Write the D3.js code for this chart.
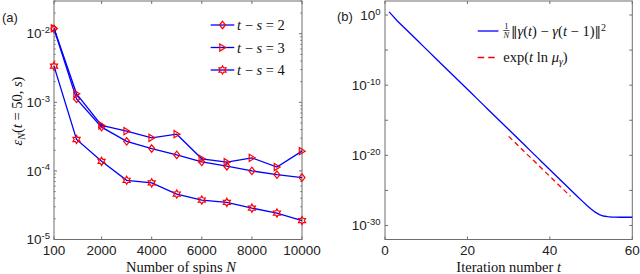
<!DOCTYPE html>
<html>
<head>
<meta charset="utf-8">
<script src="https://cdn.jsdelivr.net/npm/d3@7"></script>
<style>
  body { margin: 0; background: #fff; }
  svg { display: block; }
</style>
</head>
<body>
<div id="chart"></div>
<script>
// ---- panel (a): error vs number of spins
const spins = [100, 1000, 2000, 3000, 4000, 5000, 6000, 7000, 8000, 9000, 10000];
const errTS2 = [1.18e-2, 1.12e-3, 4.35e-4, 2.7e-4, 2.12e-4, 1.71e-4, 1.35e-4, 1.17e-4, 1.0e-4, 8.8e-5, 8.0e-5];
const errTS3 = [1.2e-2, 1.33e-3, 4.6e-4, 3.8e-4, 3.04e-4, 3.43e-4, 1.5e-4, 1.34e-4, 1.55e-4, 1.14e-4, 1.94e-4];
const errTS4 = [3.37e-3, 2.87e-4, 1.38e-4, 7.3e-5, 6.7e-5, 4.6e-5, 3.76e-5, 3.47e-5, 2.87e-5, 2.43e-5, 1.89e-5];
const seriesGaps = [2, 3, 4];
const xTicksA = [100, 2000, 4000, 6000, 8000, 10000];
const yTicksA = [1e-5, 1e-4, 1e-3, 1e-2];

// ---- panel (b): convergence vs iteration (log10 of the values)
const iters = d3.range(1, 61);
const diffExp = [0.45, -0.2, -0.85, -1.42, -1.99, -2.57, -3.14, -3.71, -4.29, -4.86,
  -5.43, -6.01, -6.58, -7.15, -7.73, -8.30, -8.87, -9.44, -10.02, -10.59,
  -11.16, -11.74, -12.31, -12.88, -13.46, -14.03, -14.60, -15.18, -15.75, -16.32,
  -16.89, -17.47, -18.04, -18.61, -19.19, -19.76, -20.33, -20.91, -21.48, -22.05,
  -22.63, -23.20, -23.77, -24.34, -24.92, -25.49, -26.06, -26.6, -27.15, -27.65,
  -28.1, -28.45, -28.65, -28.75, -28.8, -28.82, -28.83, -28.83, -28.83, -28.83];
const fitIters = [30, 45];
const fitExp = [-17.3, -25.85];
const xTicksB = [0, 20, 40, 60];
const yTicksBExp = [-30, -20, -10, 0];
const yMinorBExp = [-25, -15, -5];

const W = 640, H = 274;
const axisColor = '#6e6e6e';
const serif = '"Liberation Serif", "DejaVu Serif", serif';
const sans = '"Liberation Sans", Arial, sans-serif';

const svg = d3.select('#chart').append('svg')
  .attr('width', W).attr('height', H)
  .style('font-family', sans);

// ---------- helpers
function powLabel(sel, base, exp, anchorX) {
  const t = sel.append('text')
    .attr('x', anchorX).attr('y', 0)
    .attr('text-anchor', 'end')
    .attr('fill', '#222')
    .style('font-size', '13.5px');
  t.append('tspan').attr('dy', '0.35em').text(base);
  t.append('tspan').attr('dy', '-0.55em').style('font-size', '9.5px').text(exp);
}

function frame(g, x, y) {
  const [x0, x1] = x.range();
  const [y0, y1] = y.range();
  g.append('rect')
    .attr('x', x0).attr('y', y1)
    .attr('width', x1 - x0).attr('height', y0 - y1)
    .attr('fill', 'none').attr('stroke', axisColor).attr('stroke-width', 1);
}

function ticks(g, x, y, xVals, yVals, len) {
  const [x0, x1] = x.range();
  const [y0, y1] = y.range();
  xVals.forEach(v => {
    g.append('line').attr('x1', x(v)).attr('x2', x(v)).attr('y1', y0).attr('y2', y0 - len)
      .attr('stroke', axisColor);
    g.append('line').attr('x1', x(v)).attr('x2', x(v)).attr('y1', y1).attr('y2', y1 + len)
      .attr('stroke', axisColor);
  });
  yVals.forEach(v => {
    g.append('line').attr('x1', x0).attr('x2', x0 + len).attr('y1', y(v)).attr('y2', y(v))
      .attr('stroke', axisColor);
    g.append('line').attr('x1', x1).attr('x2', x1 - len).attr('y1', y(v)).attr('y2', y(v))
      .attr('stroke', axisColor);
  });
}

function markerPath(shape, cx, cy) {
  let pts;
  if (shape === 'diamond') pts = [[0, -3.7], [3, 0], [0, 3.7], [-3, 0]];
  else if (shape === 'tri') pts = [[-2.7, -3.6], [3.2, 0], [-2.7, 3.6]];
  else pts = d3.range(12).map(k => {
    const a = -Math.PI / 2 + k * Math.PI / 6, r = k % 2 ? 2.35 : 4.1;
    return [r * Math.cos(a), r * Math.sin(a)];
  });
  return 'M' + pts.map(p => (cx + p[0]) + ',' + (cy + p[1])).join('L') + 'Z';
}

// ================= panel (a)
const xA = d3.scaleLinear().domain([100, 10000]).range([54, 302]);
const yA = d3.scaleLog().domain([1e-5, 3e-2]).range([239.5, 1]);
const gA = svg.append('g');

const minorA = [];
[1e-5, 1e-4, 1e-3, 1e-2].forEach(dec => {
  for (let m = 2; m <= 9; m++) if (m * dec <= 3e-2) minorA.push(m * dec);
});
ticks(gA, xA, yA, xTicksA, [], 3);
ticks(gA, xA, yA, [], yTicksA, 3);
ticks(gA, xA, yA, [], minorA, 1.6);
frame(gA, xA, yA);

xTicksA.forEach(v => {
  gA.append('text').attr('x', xA(v)).attr('y', 255)
    .attr('text-anchor', 'middle').attr('fill', '#222')
    .style('font-size', '13.5px').text(v);
});
yTicksA.forEach(v => {
  const g = gA.append('g').attr('transform', `translate(0,${yA(v)})`);
  powLabel(g, '10', String(Math.round(Math.log10(v))), 50);
});

const series = [
  { vals: errTS2, shape: 'diamond' },
  { vals: errTS3, shape: 'tri' },
  { vals: errTS4, shape: 'hex' }
];
const lineA = d3.line().x((d, i) => xA(spins[i])).y(d => yA(d));
series.forEach(s => {
  gA.append('path').datum(s.vals).attr('d', lineA)
    .attr('fill', 'none').attr('stroke', '#0000ff').attr('stroke-width', 1.3);
  gA.selectAll(null).data(s.vals).join('path')
    .attr('d', (d, i) => markerPath(s.shape, xA(spins[i]), yA(d)))
    .attr('fill', 'none').attr('stroke', '#ff0000').attr('stroke-width', 1.2);
});

// legend (a)
seriesGaps.forEach((gap, i) => {
  const ly = 25 + i * 22.5;
  gA.append('line').attr('x1', 210.7).attr('x2', 234.3).attr('y1', ly).attr('y2', ly)
    .attr('stroke', '#0000ff').attr('stroke-width', 1.3);
  gA.append('path').attr('d', markerPath(series[i].shape, 222.5, ly))
    .attr('fill', 'none').attr('stroke', '#ff0000').attr('stroke-width', 1.2);
  const t = gA.append('text').attr('x', 237).attr('y', ly + 5)
    .style('font-family', serif).style('font-size', '14.5px').attr('fill', '#111');
  t.append('tspan').style('font-style', 'italic').text('t');
  t.append('tspan').text(' − ');
  t.append('tspan').style('font-style', 'italic').text('s');
  t.append('tspan').text(' = ' + gap);
});

// axis labels (a)
const xlabA = gA.append('text').attr('x', 181).attr('y', 271.5)
  .attr('text-anchor', 'middle').style('font-family', serif).style('font-size', '14.5px').attr('fill', '#111');
xlabA.append('tspan').text('Number of spins ');
xlabA.append('tspan').style('font-style', 'italic').text('N');

const ylabA = gA.append('text').attr('transform', 'translate(22,111) rotate(-90)')
  .attr('text-anchor', 'middle').style('font-family', serif).style('font-size', '14.5px').attr('fill', '#111');
ylabA.append('tspan').style('font-style', 'italic').text('ε');
ylabA.append('tspan').style('font-style', 'italic').style('font-size', '10px').attr('dy', 3).text('N');
ylabA.append('tspan').attr('dy', -3).text('(');
ylabA.append('tspan').style('font-style', 'italic').text('t');
ylabA.append('tspan').text(' = 50, ');
ylabA.append('tspan').style('font-style', 'italic').text('s');
ylabA.append('tspan').text(')');

gA.append('text').attr('x', 2).attr('y', 22).style('font-size', '13px').attr('fill', '#222').text('(a)');

// ================= panel (b)
const xB = d3.scaleLinear().domain([0, 60]).range([385, 632.3]);
const yB = d3.scaleLog().domain([1e-32, 1e2]).range([239.5, 1]);
const gB = svg.append('g');

ticks(gB, xB, yB, xTicksB, yTicksBExp.concat(yMinorBExp).map(e => Math.pow(10, e)), 3);
frame(gB, xB, yB);

xTicksB.forEach(v => {
  gB.append('text').attr('x', xB(v)).attr('y', 255)
    .attr('text-anchor', 'middle').attr('fill', '#222')
    .style('font-size', '13.5px').text(v);
});
yTicksBExp.forEach(e => {
  const g = gB.append('g').attr('transform', `translate(0,${yB(Math.pow(10, e))})`);
  powLabel(g, '10', String(e), 380.5);
});

const lineB = d3.line().x((d, i) => xB(iters[i])).y(d => yB(Math.pow(10, d)));
gB.append('path').datum(diffExp).attr('d', lineB)
  .attr('fill', 'none').attr('stroke', '#0000ff').attr('stroke-width', 1.3);

const fitLine = d3.line().x((d, i) => xB(fitIters[i])).y(d => yB(Math.pow(10, d)));
gB.append('path').datum(fitExp).attr('d', fitLine)
  .attr('fill', 'none').attr('stroke', '#ff0000').attr('stroke-width', 1.3)
  .attr('stroke-dasharray', '5,3.5');

// legend (b)
gB.append('line').attr('x1', 477.7).attr('x2', 498.5).attr('y1', 31).attr('y2', 31)
  .attr('stroke', '#0000ff').attr('stroke-width', 1.3);
gB.append('line').attr('x1', 477.7).attr('x2', 498.5).attr('y1', 57.5).attr('y2', 57.5)
  .attr('stroke', '#ff0000').attr('stroke-width', 1.3).attr('stroke-dasharray', '6.5,4');

// 1/N fraction
gB.append('text').attr('x', 506.3).attr('y', 28.5).attr('text-anchor', 'middle')
  .style('font-family', serif).style('font-size', '8.5px').attr('fill', '#111').text('1');
gB.append('line').attr('x1', 503.3).attr('x2', 509.5).attr('y1', 30.5).attr('y2', 30.5)
  .attr('stroke', '#111').attr('stroke-width', 0.7);
gB.append('text').attr('x', 506.3).attr('y', 37.5).attr('text-anchor', 'middle')
  .style('font-family', serif).style('font-size', '8.5px').style('font-style', 'italic').attr('fill', '#111').text('N');

const normFont = '"DejaVu Serif", serif';
const lb1 = gB.append('text').attr('x', 511).attr('y', 36)
  .style('font-family', serif).style('font-size', '14.5px').attr('fill', '#111');
lb1.append('tspan').style('font-family', normFont).style('font-size', '13px').text('‖');
lb1.append('tspan').style('font-style', 'italic').text('γ');
lb1.append('tspan').text('(');
lb1.append('tspan').style('font-style', 'italic').text('t');
lb1.append('tspan').text(') − ');
lb1.append('tspan').style('font-style', 'italic').text('γ');
lb1.append('tspan').text('(');
lb1.append('tspan').style('font-style', 'italic').text('t');
lb1.append('tspan').text(' − 1)');
lb1.append('tspan').style('font-family', normFont).style('font-size', '13px').text('‖');
lb1.append('tspan').attr('dy', -5.5).style('font-size', '10px').text('2');

const lb2 = gB.append('text').attr('x', 503.3).attr('y', 62)
  .style('font-family', serif).style('font-size', '14.5px').attr('fill', '#111');
lb2.append('tspan').text('exp(');
lb2.append('tspan').style('font-style', 'italic').text('t');
lb2.append('tspan').text(' ln ');
lb2.append('tspan').style('font-style', 'italic').text('μ');
lb2.append('tspan').attr('dy', 3).style('font-style', 'italic').style('font-size', '10px').text('γ');
lb2.append('tspan').attr('dy', -3).text(')');

// axis labels (b)
const xlabB = gB.append('text').attr('x', 508.7).attr('y', 271.5)
  .attr('text-anchor', 'middle').style('font-family', serif).style('font-size', '14.5px').attr('fill', '#111');
xlabB.append('tspan').text('Iteration number ');
xlabB.append('tspan').style('font-style', 'italic').text('t');

gB.append('text').attr('x', 337).attr('y', 21).style('font-size', '13px').attr('fill', '#222').text('(b)');
</script>
</body>
</html>
